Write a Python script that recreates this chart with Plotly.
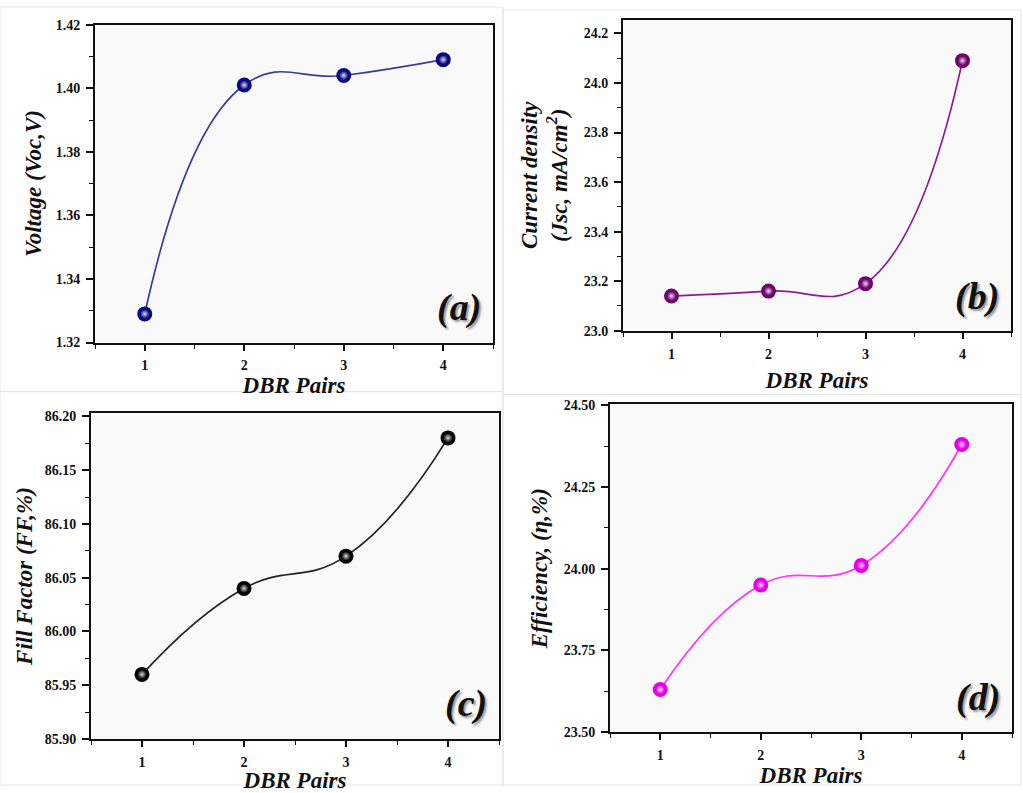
import plotly.graph_objects as go

dbr_pairs = [1, 2, 3, 4]
voltage = [1.329, 1.401, 1.404, 1.409]
current_density = [23.14, 23.16, 23.19, 24.09]
fill_factor = [85.96, 86.04, 86.07, 86.18]
efficiency = [23.63, 23.95, 24.01, 24.38]

panels = [
    dict(y=voltage, line="#3b3b9c", marker="#0a0a80", x_dom=[95, 493], y_pix=[18, 342],
         yrange=[1.32, 1.42], ydtick=0.02, yfmt=".2f", ytitle="Voltage (Voc,V)", label="(a)",
         xstand=4, ystand=8),
    dict(y=current_density, line="#8e1a8e", marker="#6e066e", x_dom=[623, 1011], y_pix=[13, 330],
         yrange=[23.0, 24.255], ydtick=0.2, yfmt=".1f",
         ytitle="Current density<br>(Jsc, mA/cm<sup>2</sup>)", label="(b)", xstand=11, ystand=10),
    dict(y=fill_factor, line="#222222", marker="#050505", x_dom=[91, 499], y_pix=[414, 746],
         yrange=[85.90, 86.203], ydtick=0.05, yfmt=".2f", ytitle="Fill Factor (FF,%)", label="(c)",
         xstand=2, ystand=6),
    dict(y=efficiency, line="#ff33ff", marker="#e600e6", x_dom=[610, 1012], y_pix=[405, 739],
         yrange=[23.50, 24.503], ydtick=0.25, yfmt=".2f", ytitle="Efficiency, (η,%)", label="(d)",
         xstand=3, ystand=10),
]

W, H = 1023, 793
fig = go.Figure()
tick_font = dict(family="Liberation Serif", size=14, color="#111111", weight="bold")
title_font = dict(family="Liberation Serif", size=23, color="#111111", weight="bold", style="italic")

for i, p in enumerate(panels, start=1):
    xa = "x" if i == 1 else f"x{i}"
    ya = "y" if i == 1 else f"y{i}"
    fig.add_trace(go.Scatter(
        x=dbr_pairs, y=p["y"], xaxis=xa, yaxis=ya, mode="lines+markers",
        line=dict(color=p["line"], width=1.7, shape="spline", smoothing=1.3),
        marker=dict(size=15, color=p["marker"], line=dict(width=0)),
        showlegend=False, cliponaxis=False, hoverinfo="x+y",
    ))
    # sphere highlight
    fig.add_trace(go.Scatter(
        x=dbr_pairs, y=p["y"], xaxis=xa, yaxis=ya, mode="markers",
        marker=dict(size=9, color="rgba(255,255,255,0)",
                    gradient=dict(type="radial", color="rgba(255,255,255,0.85)"),
                    line=dict(width=0)),
        showlegend=False, cliponaxis=False, hoverinfo="skip",
    ))
    xd = [p["x_dom"][0] / W, p["x_dom"][1] / W]
    yd = [(H - p["y_pix"][1]) / H, (H - p["y_pix"][0]) / H]
    xkey = "xaxis" if i == 1 else f"xaxis{i}"
    ykey = "yaxis" if i == 1 else f"yaxis{i}"
    fig.layout[xkey] = dict(
        domain=xd, anchor=ya, range=[0.5, 4.5], tickmode="array", tickvals=dbr_pairs,
        ticktext=[str(v) for v in dbr_pairs],
        ticks="outside", ticklen=6, tickwidth=1.5, tickcolor="#111111",
        minor=dict(dtick=0.5, tick0=0.5, ticks="outside", ticklen=4, tickwidth=1.2, tickcolor="#111111"),
        showline=True, linecolor="#111111", linewidth=2, mirror=True, showgrid=False, zeroline=False,
        tickfont=tick_font, ticklabelstandoff=3,
        title=dict(text="DBR Pairs", font=title_font, standoff=p["xstand"]),
    )
    yvals = []
    v = p["yrange"][0]
    while v <= p["yrange"][1] + 1e-9:
        yvals.append(round(v, 4))
        v += p["ydtick"]
    fig.layout[ykey] = dict(
        domain=yd, anchor=xa, range=p["yrange"], tickmode="array", tickvals=yvals,
        ticktext=[format(t, p["yfmt"]) for t in yvals],
        ticks="outside", ticklen=7, tickwidth=1.5, tickcolor="#111111",
        minor=dict(dtick=p["ydtick"] / 2, tick0=p["yrange"][0], ticks="outside", ticklen=4,
                   tickwidth=1.2, tickcolor="#111111"),
        showline=True, linecolor="#111111", linewidth=2, mirror=True, showgrid=False, zeroline=False,
        tickfont=tick_font, ticklabelstandoff=3,
        title=dict(text=p["ytitle"], font=title_font, standoff=p["ystand"]),
    )
    # panel label
    fig.add_annotation(
        xref=f"{xa} domain", yref=f"{ya} domain", x=0.975, y=0.035, xanchor="right", yanchor="bottom",
        text=p["label"], showarrow=False,
        font=dict(family="Liberation Serif", size=38, color="#111111", weight="bold", style="italic",
                  shadow="2px 2px 2px #9a9a9a"),
    )

# faint panel frames like the reference composite
frames = [(0, 0, 503, 392), (503, 3, 1021, 395), (0, 392, 503, 793), (503, 395, 1021, 793)]
for x0, y0, x1, y1 in frames:
    fig.add_shape(type="rect", xref="paper", yref="paper", x0=x0 / W, x1=x1 / W,
                  y0=(H - y1) / H, y1=(H - y0) / H, line=dict(color="#e4e4e4", width=1),
                  fillcolor="rgba(0,0,0,0)", layer="below")

fig.update_layout(
    width=W, height=H, margin=dict(l=0, r=0, t=0, b=0),
    paper_bgcolor="#ffffff", plot_bgcolor="#f9f9f9",
    font=dict(family="Liberation Serif", color="#111111"),
)

fig.write_html("out.html")
